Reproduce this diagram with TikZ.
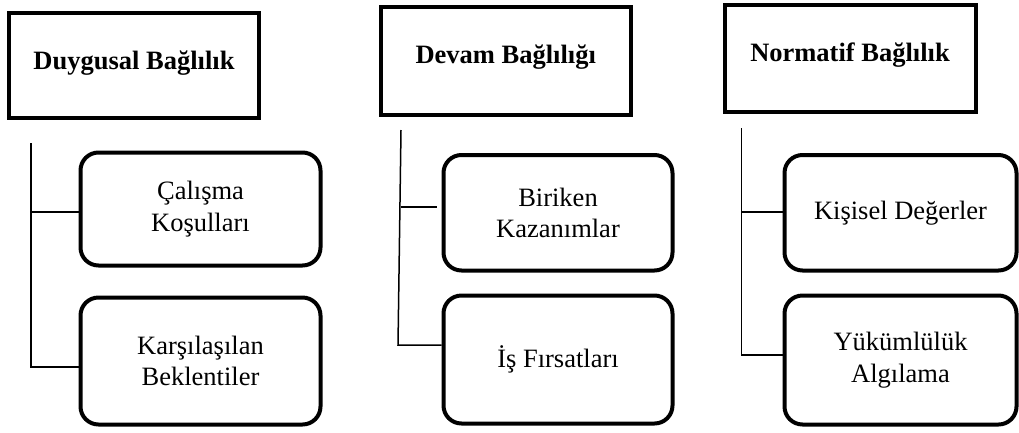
\documentclass[tikz,border=0pt]{standalone}
\usepackage{fontspec}
\setmainfont{Liberation Serif}
\begin{document}
\begin{tikzpicture}[x=1pt,y=-1pt,
  headbox/.style={draw=black,line width=4pt,rectangle,inner sep=0pt},
  subbox/.style={draw=black,line width=4pt,rectangle,rounded corners=18pt,inner sep=0pt,align=center,font=\fontsize{26.5}{31.5}\selectfont},
  headtext/.style={anchor=base,inner sep=0pt,font=\fontsize{26.5}{31.5}\selectfont\bfseries},
  link/.style={line width=1.5pt,draw=black}]
\useasboundingbox (0,0) rectangle (1019,432);
% column 1
\node[headbox,minimum width=250pt,minimum height=105pt] (h1) at (134,65.5) {};
\node[headtext] (h1t) at (134,69) {Duygusal Bağlılık};
\node[subbox,minimum width=240pt,minimum height=113pt] (b11) at (200.5,209) {Çalışma\\Koşulları};
\node[subbox,minimum width=240pt,minimum height=127pt] (b12) at (200.5,361) {Karşılaşılan\\Beklentiler};
\coordinate (t1) at (31,143);
\coordinate (m1) at (31,212);
\coordinate (e1) at (31,367);
\draw[link] (t1) -- (e1) -- (e1 -| b12.west);
\draw[link] (m1) -- (m1 -| b11.west);
% column 2
\node[headbox,minimum width=250.5pt,minimum height=107.5pt] (h2) at (505.75,60.75) {};
\node[headtext] (h2t) at (505.75,63) {Devam Bağlılığı};
\node[subbox,minimum width=229pt,minimum height=115.5pt] (b21) at (558,212.75) {Biriken\\Kazanımlar};
\node[subbox,minimum width=229pt,minimum height=128pt] (b22) at (558,359.5) {İş Fırsatları};
\coordinate (t2) at (401,130);
\coordinate (m2) at (400.5,207);
\coordinate (e2) at (398,345);
\draw[link] (t2) -- (e2) -- (e2 -| b22.west);
\draw[link,shorten >=5pt] (m2) -- (m2 -| b21.west);
% column 3
\node[headbox,minimum width=251pt,minimum height=106.5pt] (h3) at (850,58.25) {};
\node[headtext] (h3t) at (850,61) {Normatif Bağlılık};
\node[subbox,minimum width=232pt,minimum height=115.5pt] (b31) at (900.5,212.75) {Kişisel Değerler};
\node[subbox,minimum width=232pt,minimum height=129pt] (b32) at (900.5,360) {Yükümlülük\\Algılama};
\coordinate (t3) at (741.7,128);
\coordinate (m3) at (741.7,212);
\coordinate (e3) at (741.7,355);
\draw[link] (t3) -- (e3) -- (e3 -| b32.west);
\draw[link] (m3) -- (m3 -| b31.west);
\end{tikzpicture}
\end{document}
